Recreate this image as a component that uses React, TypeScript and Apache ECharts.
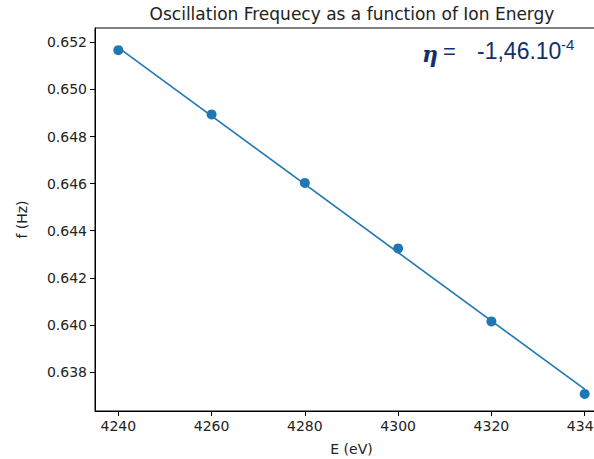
import React, { useEffect, useRef } from "react";
import * as echarts from "echarts";

const energies = [4240, 4260, 4280, 4300, 4320, 4340];
const frequencies = [0.65167, 0.64894, 0.64603, 0.64325, 0.64015, 0.63707];
const fitEnergies = [4240, 4340];
const fitFrequencies = [0.65178, 0.63727];
const xTicks = [4240, 4260, 4280, 4300, 4320, 4340];
const yTicks = [0.638, 0.64, 0.642, 0.644, 0.646, 0.648, 0.65, 0.652];
const titleText = "Oscillation Frequecy as a function of Ion Energy";
const etaValue = "-1,46.10";
const etaExponent = "-4";

export default function App() {
  const ref = useRef<HTMLDivElement>(null);
  useEffect(() => {
    document.body.style.margin = "0";
    const chart = echarts.init(ref.current!, null, { renderer: "svg" });
    const font = "DejaVu Sans";
    const navy = "#13306c";
    chart.setOption({
      animation: false,
      backgroundColor: "#ffffff",
      textStyle: { fontFamily: font },
      grid: {
        left: 95,
        top: 28,
        width: 513,
        height: 383,
        outerBoundsMode: "none",
        containLabel: false,
        show: true,
        borderColor: "#000",
        borderWidth: 1,
        backgroundColor: "transparent",
      },
      xAxis: {
        type: "value",
        min: 4235,
        max: 4345,
        name: "E (eV)",
        nameLocation: "middle",
        nameGap: 31,
        nameTextStyle: { fontSize: 14, color: "#222", fontFamily: font },
        axisLine: { show: true, lineStyle: { color: "#000", width: 1 } },
        axisTick: {
          show: true,
          length: 5,
          inside: false,
          customValues: xTicks,
          lineStyle: { color: "#000" },
        },
        axisLabel: {
          customValues: xTicks,
          fontSize: 14,
          color: "#222",
          margin: 8,
          fontFamily: font,
          formatter: (v: number) => String(v),
        },
        splitLine: { show: false },
      },
      yAxis: {
        type: "value",
        min: 0.636344,
        max: 0.65261,
        name: "f (Hz)",
        nameLocation: "middle",
        nameGap: 66,
        nameRotate: 90,
        nameTextStyle: { fontSize: 14, color: "#222", fontFamily: font },
        axisLine: { show: true, lineStyle: { color: "#000", width: 1 } },
        axisTick: {
          show: true,
          length: 5,
          inside: false,
          customValues: yTicks,
          lineStyle: { color: "#000" },
        },
        axisLabel: {
          customValues: yTicks,
          fontSize: 14,
          color: "#222",
          margin: 8,
          fontFamily: font,
          formatter: (v: number) => v.toFixed(3),
        },
        splitLine: { show: false },
      },
      series: [
        {
          type: "line",
          data: fitEnergies.map((e, i) => [e, fitFrequencies[i]]),
          showSymbol: false,
          symbol: "none",
          lineStyle: { color: "#1f77b4", width: 1.6 },
          z: 2,
        },
        {
          type: "scatter",
          data: energies.map((e, i) => [e, frequencies[i]]),
          symbol: "circle",
          symbolSize: 10,
          itemStyle: { color: "#1f77b4", opacity: 1 },
          z: 3,
        },
      ],
      graphic: [
        {
          type: "text",
          x: 352,
          y: 14,
          style: {
            text: titleText,
            fill: "#222",
            font: `17px "${font}"`,
            textAlign: "center",
            textVerticalAlign: "middle",
          },
        },
        {
          type: "text",
          x: 422,
          y: 54,
          style: {
            text: "η",
            fill: navy,
            font: 'italic bold 22px "DejaVu Serif"',
            textAlign: "left",
            textVerticalAlign: "middle",
          },
        },
        {
          type: "text",
          x: 443,
          y: 51,
          style: {
            text: "=",
            fill: navy,
            font: '22px "Liberation Sans"',
            textAlign: "left",
            textVerticalAlign: "middle",
          },
        },
        {
          type: "text",
          x: 477,
          y: 51,
          style: {
            text: etaValue,
            fill: navy,
            font: '23px "Liberation Sans"',
            textAlign: "left",
            textVerticalAlign: "middle",
          },
        },
        {
          type: "text",
          x: 561,
          y: 44,
          style: {
            text: etaExponent,
            fill: navy,
            font: '15px "Liberation Sans"',
            textAlign: "left",
            textVerticalAlign: "middle",
          },
        },
      ],
    });
    return () => chart.dispose();
  }, []);
  return <div ref={ref} style={{ width: 594, height: 459 }} />;
}
